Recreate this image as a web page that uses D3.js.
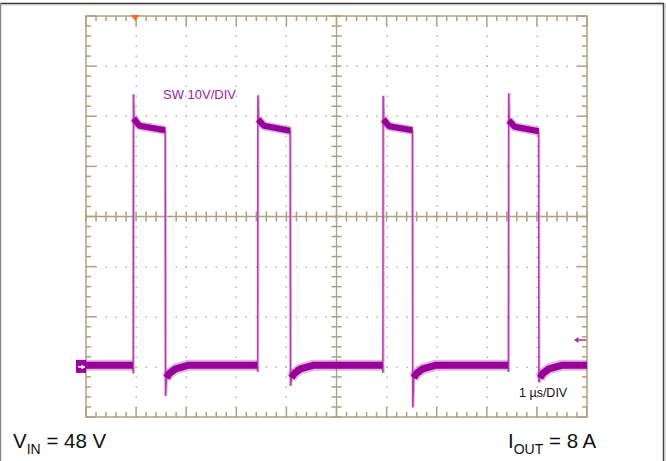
<!DOCTYPE html>
<html><head><meta charset="utf-8">
<script src="https://cdn.jsdelivr.net/npm/d3@7"></script>
<style>
html,body{margin:0;padding:0;background:#fff;}
svg{display:block;font-family:"Liberation Sans",Arial,Helvetica,sans-serif;}
</style></head>
<body><svg id="c" width="666" height="461"></svg>
<script>
// ---- data ----
const timeDomainUs = [0, 10];          // 1 µs/DIV, 10 divisions
const voltDomain = [-10, 70];          // 10 V/DIV, 8 divisions, ground 1 div above bottom
const riseT = [0.945, 3.43, 5.93, 8.435];
const fallT = [1.585, 4.08, 6.52, 9.04];
const preDipV = [-1.3, -1.0, -1.2, -1.0];
const peakV = [54.4, 54.2, 54.1, 54.6];
const topStartV = [49.6, 49.4, 49.4, 49.2];
const topMidV = [48.1, 48.1, 48.0, 47.9];
const topEndV = [47.2, 47.1, 47.2, 47.0];
const underV = [-5.8, -3.8, -8.1, -3.1];
const lowV = 0.3;
const recoverDt = [0.02, 0.08, 0.2, 0.45];
const recoverV = [-2.2, -1.3, -0.4, 0.3];
const labelTrace = "SW 10V/DIV";
const labelTime = "1 µs/DIV";

// ---- layout ----
const svg = d3.select("#c");
const L = 86, R = 587, T = 16, B = 417;
const x = d3.scaleLinear().domain(timeDomainUs).range([L, R]);
const y = d3.scaleLinear().domain(voltDomain).range([B, T]);
const gridC = "#a9a381", dotC = "#b9b597";
const traceC = "#990099", edgeC = "#b63cb6";

// outer frame
svg.append("line").attr("x1",0).attr("x2",664).attr("y1",3.5).attr("y2",3.5).attr("stroke","#333").attr("stroke-width",1.5);
svg.append("line").attr("x1",0).attr("x2",663).attr("y1",5).attr("y2",5).attr("stroke","#ccc").attr("stroke-width",1);
svg.append("line").attr("x1",0.5).attr("x2",0.5).attr("y1",3).attr("y2",461).attr("stroke","#888").attr("stroke-width",1.5);
svg.append("line").attr("x1",663.5).attr("x2",663.5).attr("y1",3).attr("y2",461).attr("stroke","#444").attr("stroke-width",1.5);
svg.append("line").attr("x1",665).attr("x2",665).attr("y1",3).attr("y2",461).attr("stroke","#bbb").attr("stroke-width",1);

const g = svg.append("g");
// dotted grid
const majorX = d3.range(1, 10);
const majorY = d3.range(-10, 71, 10).slice(1, -1);
const minorXs = d3.range(0, 10.001, 0.2);
const minorYs = d3.range(-10, 70.001, 2);
majorX.forEach(t => {
  if (t === 5) return;
  minorYs.forEach(v => g.append("rect").attr("x", Math.round(x(t))-0.5).attr("y", Math.round(y(v))-0.5).attr("width",1.5).attr("height",1.5).attr("fill",dotC));
});
majorY.forEach(v => {
  if (v === 30) return;
  minorXs.forEach(t => g.append("rect").attr("x", Math.round(x(t))-0.5).attr("y", Math.round(y(v))-0.5).attr("width",1.5).attr("height",1.5).attr("fill",dotC));
});
// center crosshair
const cx = x(5), cy = y(30);
g.append("line").attr("x1",L).attr("x2",R).attr("y1",cy).attr("y2",cy).attr("stroke",gridC).attr("stroke-width",1.3);
g.append("line").attr("x1",cx).attr("x2",cx).attr("y1",T).attr("y2",B).attr("stroke",gridC).attr("stroke-width",1.3);
minorXs.forEach(t => g.append("line").attr("x1",x(t)).attr("x2",x(t)).attr("y1",cy-5).attr("y2",cy+5).attr("stroke",gridC).attr("stroke-width",1.5));
minorYs.forEach(v => g.append("line").attr("x1",cx-5).attr("x2",cx+5).attr("y1",y(v)).attr("y2",y(v)).attr("stroke",gridC).attr("stroke-width",1.5));
// frame + edge ticks
g.append("rect").attr("x",L).attr("y",T).attr("width",R-L).attr("height",B-T).attr("fill","none").attr("stroke",gridC).attr("stroke-width",1.5);
minorXs.forEach((t,i) => {
  const len = (i % 5 === 0) ? 10 : 5;
  g.append("line").attr("x1",x(t)).attr("x2",x(t)).attr("y1",T).attr("y2",T+len).attr("stroke",gridC).attr("stroke-width",1.5);
  g.append("line").attr("x1",x(t)).attr("x2",x(t)).attr("y1",B).attr("y2",B-len).attr("stroke",gridC).attr("stroke-width",1.5);
});
minorYs.forEach((v,i) => {
  const len = (i % 5 === 0) ? 10 : 5;
  g.append("line").attr("x1",L).attr("x2",L+len).attr("y1",y(v)).attr("y2",y(v)).attr("stroke",gridC).attr("stroke-width",1.5);
  g.append("line").attr("x1",R).attr("x2",R-len).attr("y1",y(v)).attr("y2",y(v)).attr("stroke",gridC).attr("stroke-width",1.5);
});

// ---- trace ----
const pts = [[0, lowV]];
const lowBands = [];
const topBands = [];
let cur = [[0, lowV]];
riseT.forEach((r, i) => {
  cur.push([r - 0.01, lowV]);
  lowBands.push(cur);
  pts.push([r - 0.01, lowV], [r - 0.004, preDipV[i]], [r, peakV[i]], [r + 0.012, topStartV[i]], [r + 0.12, topMidV[i]], [fallT[i] - 0.006, topEndV[i]], [fallT[i], underV[i]]);
  topBands.push([[r + 0.006, topStartV[i]], [r + 0.12, topMidV[i]], [fallT[i] - 0.004, topEndV[i]]]);
  cur = recoverDt.map((dt, k) => [fallT[i] + dt, recoverV[k]]);
  pts.push(...cur);
  const next = i < riseT.length - 1 ? riseT[i+1] : timeDomainUs[1];
  pts.push([next - 0.01, lowV]);
});
cur.push([timeDomainUs[1], lowV]);
lowBands.push(cur);

const line = d3.line().x(d => x(d[0])).y(d => y(d[1]));
const tg = svg.append("g");
// edges (thin)
tg.append("path").attr("d", line(pts)).attr("fill","none").attr("stroke","#e2b0e2").attr("stroke-width",1).attr("transform","translate(1.2,0)");
tg.append("path").attr("d", line(pts)).attr("fill","none").attr("stroke",edgeC).attr("stroke-width",1.6);
// noisy bands
lowBands.forEach(b => {
  tg.append("path").attr("d", line(b)).attr("fill","none").attr("stroke","#b050b0").attr("stroke-width",11).attr("opacity",0.4).attr("stroke-linejoin","bevel");
  tg.append("path").attr("d", line(b)).attr("fill","none").attr("stroke",traceC).attr("stroke-width",7).attr("stroke-linejoin","bevel");
});
topBands.forEach(b => {
  tg.append("path").attr("d", line(b)).attr("fill","none").attr("stroke","#b050b0").attr("stroke-width",9).attr("opacity",0.4).attr("stroke-linejoin","bevel");
  tg.append("path").attr("d", line(b)).attr("fill","none").attr("stroke",traceC).attr("stroke-width",6).attr("stroke-linejoin","bevel");
});

// ---- markers ----
const trigX = x(timeDomainUs[0] + 1) - 1;
svg.append("path").attr("d", `M${trigX-4.5},${T-1} L${trigX+4.5},${T-1} L${trigX},${T+5} Z`).attr("fill","#ff6a22");
const gy = y(0);
svg.append("rect").attr("x",76).attr("y",gy-7).attr("width",10).attr("height",13).attr("fill",traceC);
svg.append("line").attr("x1",78).attr("x2",85).attr("y1",gy).attr("y2",gy).attr("stroke","#fff").attr("stroke-width",1.5);
svg.append("path").attr("d",`M85,${gy} L81.5,${gy-2.5} L81.5,${gy+2.5} Z`).attr("fill","#fff");
const ry = 340;
svg.append("line").attr("x1",575).attr("x2",586).attr("y1",ry).attr("y2",ry).attr("stroke","#a030a0").attr("stroke-width",1.5);
svg.append("path").attr("d",`M574,${ry} L578.5,${ry-3} L578.5,${ry+3} Z`).attr("fill","#a030a0");

// ---- labels ----
svg.append("text").attr("x",163).attr("y",98.5).attr("font-size",13).attr("fill","#a020a0").text(labelTrace);
svg.append("text").attr("x",519).attr("y",397).attr("font-size",12.5).attr("fill","#111").text(labelTime);
const t1 = svg.append("text").attr("x",13).attr("y",448).attr("font-size",20.5).attr("fill","#111");
t1.append("tspan").text("V");
t1.append("tspan").attr("font-size",14).attr("dy",6).text("IN");
t1.append("tspan").attr("dy",-6).text(" = 48 V");
const t2 = svg.append("text").attr("x",508).attr("y",448).attr("font-size",20.5).attr("fill","#111");
t2.append("tspan").text("I");
t2.append("tspan").attr("font-size",14).attr("dy",6).text("OUT");
t2.append("tspan").attr("dy",-6).text(" = 8 A");
</script></body></html>
